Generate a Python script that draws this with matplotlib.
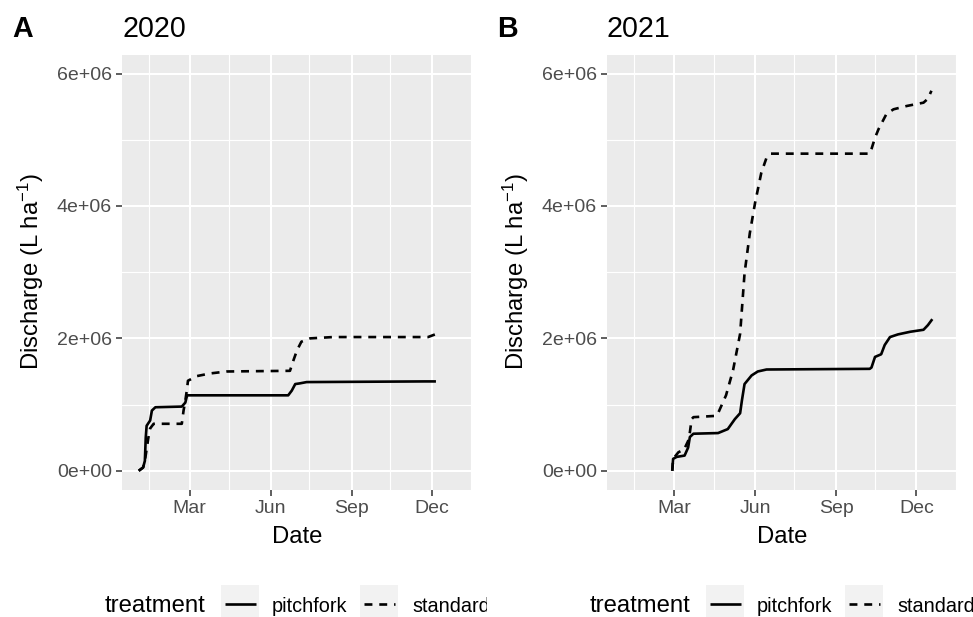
import matplotlib
matplotlib.use('Agg')
import matplotlib.pyplot as plt
import matplotlib.dates as mdates
from matplotlib.ticker import FuncFormatter, FixedLocator
from matplotlib.lines import Line2D
from matplotlib.patches import Rectangle
import pandas as pd

plt.rcParams['font.family'] = ['Liberation Sans', 'DejaVu Sans']
plt.rcParams['mathtext.fontset'] = 'custom'
plt.rcParams['mathtext.rm'] = 'Liberation Sans'
plt.rcParams['mathtext.it'] = 'Liberation Sans:italic'
plt.rcParams['mathtext.bf'] = 'Liberation Sans:bold'

# ---------------- data ----------------
years = [2020, 2021]
tags = ['A', 'B']
treatments = ['pitchfork', 'standard']

pitchfork_2020_dates = ['2020-01-03', '2020-01-08', '2020-01-10', '2020-01-11', '2020-01-12',
                        '2020-01-16', '2020-01-18', '2020-01-22', '2020-02-21', '2020-02-25',
                        '2020-02-27', '2020-06-21', '2020-06-25', '2020-06-29', '2020-07-04',
                        '2020-07-12', '2020-11-23', '2020-12-06']
pitchfork_2020_vals = [0.00e6, 0.05e6, 0.15e6, 0.50e6, 0.68e6,
                       0.76e6, 0.91e6, 0.96e6, 0.97e6, 1.03e6,
                       1.14e6, 1.14e6, 1.21e6, 1.31e6, 1.32e6,
                       1.34e6, 1.35e6, 1.35e6]

standard_2020_dates = ['2020-01-03', '2020-01-08', '2020-01-10', '2020-01-14', '2020-01-16',
                       '2020-01-20', '2020-02-21', '2020-02-23', '2020-02-25', '2020-02-27',
                       '2020-02-28', '2020-03-09', '2020-03-24', '2020-04-12', '2020-06-23',
                       '2020-06-27', '2020-07-01', '2020-07-06', '2020-07-16', '2020-08-11',
                       '2020-11-27', '2020-12-05']
standard_2020_vals = [0.00e6, 0.05e6, 0.15e6, 0.50e6, 0.64e6,
                      0.71e6, 0.71e6, 0.91e6, 1.06e6, 1.24e6,
                      1.36e6, 1.43e6, 1.47e6, 1.50e6, 1.51e6,
                      1.67e6, 1.82e6, 1.95e6, 2.00e6, 2.02e6,
                      2.02e6, 2.06e6]

pitchfork_2021_dates = ['2021-02-27', '2021-02-28', '2021-03-04', '2021-03-13', '2021-03-17',
                        '2021-03-19', '2021-03-23', '2021-04-20', '2021-05-01', '2021-05-09',
                        '2021-05-15', '2021-05-17', '2021-05-20', '2021-05-28', '2021-06-04',
                        '2021-06-14', '2021-10-09', '2021-10-11', '2021-10-15', '2021-10-22',
                        '2021-10-26', '2021-11-01', '2021-11-10', '2021-11-24', '2021-12-09',
                        '2021-12-14', '2021-12-19']
pitchfork_2021_vals = [0.00e6, 0.18e6, 0.21e6, 0.23e6, 0.35e6,
                       0.51e6, 0.56e6, 0.57e6, 0.63e6, 0.78e6,
                       0.87e6, 1.06e6, 1.31e6, 1.44e6, 1.50e6,
                       1.53e6, 1.54e6, 1.56e6, 1.72e6, 1.76e6,
                       1.90e6, 2.02e6, 2.06e6, 2.10e6, 2.13e6,
                       2.20e6, 2.29e6]

standard_2021_dates = ['2021-02-27', '2021-02-28', '2021-03-06', '2021-03-09', '2021-03-12',
                       '2021-03-17', '2021-03-19', '2021-03-21', '2021-03-23', '2021-04-18',
                       '2021-04-20', '2021-04-29', '2021-05-07', '2021-05-15', '2021-05-20',
                       '2021-05-26', '2021-06-01', '2021-06-08', '2021-06-14', '2021-06-19',
                       '2021-10-09', '2021-10-11', '2021-10-15', '2021-10-19', '2021-10-28',
                       '2021-11-05', '2021-11-20', '2021-12-09', '2021-12-14', '2021-12-18']
standard_2021_vals = [0.00e6, 0.18e6, 0.28e6, 0.30e6, 0.31e6,
                      0.45e6, 0.58e6, 0.78e6, 0.81e6, 0.83e6,
                      0.87e6, 1.14e6, 1.52e6, 2.07e6, 2.98e6,
                      3.59e6, 4.05e6, 4.50e6, 4.73e6, 4.79e6,
                      4.79e6, 4.86e6, 5.03e6, 5.16e6, 5.39e6,
                      5.46e6, 5.51e6, 5.56e6, 5.62e6, 5.74e6]

y_ticks = [0, 2e6, 4e6, 6e6]
y_minor = [1e6, 3e6, 5e6]
y_limits = (-0.29e6, 6.28e6)

series = {
    2020: {'pitchfork': (pitchfork_2020_dates, pitchfork_2020_vals),
           'standard': (standard_2020_dates, standard_2020_vals)},
    2021: {'pitchfork': (pitchfork_2021_dates, pitchfork_2021_vals),
           'standard': (standard_2021_dates, standard_2021_vals)},
}

# ---------------- style ----------------
W, H = 973, 617
LW = 1.9
DASH = (3.0, 2.6)
BASE = 17.2
TICK = 14.0
LEGLAB = 14.3
TITLE = 20.6
PANEL_BG = '#EBEBEB'

fig = plt.figure(figsize=(W / 100, H / 100), dpi=100)


def rect_px(l, t, r, b):
    return [l / W, 1 - b / H, (r - l) / W, (b - t) / H]


def fx(x):
    return x / W


def fy(y):
    return 1 - y / H


offsets = [0, 485]
for i, yr in enumerate(years):
    off = offsets[i]
    ax = fig.add_axes(rect_px(122 + off, 55, 472 + off, 490))
    ax.set_facecolor(PANEL_BG)
    for s in ax.spines.values():
        s.set_visible(False)
    for tr in treatments:
        d, v = series[yr][tr]
        line, = ax.plot(pd.to_datetime(d), v, color='black', lw=LW,
                        solid_capstyle='butt', dash_capstyle='butt', zorder=3)
        if tr == 'standard':
            line.set_dashes(DASH)
    ax.set_ylim(*y_limits)
    ax.set_xlim(pd.Timestamp(f'{yr - 1}-12-15'), pd.Timestamp(f'{yr + 1}-01-16'))
    ax.yaxis.set_major_locator(FixedLocator(y_ticks))
    ax.yaxis.set_minor_locator(FixedLocator(y_minor))
    ax.yaxis.set_major_formatter(FuncFormatter(lambda v, p: f'{v:.0e}'))
    ax.xaxis.set_major_locator(mdates.MonthLocator(bymonth=[3, 6, 9, 12], bymonthday=1))
    ax.xaxis.set_minor_locator(mdates.MonthLocator(bymonth=[1, 4, 7, 10], bymonthday=15))
    ax.xaxis.set_major_formatter(mdates.DateFormatter('%b'))
    ax.grid(True, which='major', color='white', lw=1.5, zorder=1)
    ax.grid(True, which='minor', color='white', lw=0.8, zorder=1)
    ax.set_axisbelow(True)
    ax.tick_params(which='major', length=4, width=1.1, color='#333333',
                   labelcolor='#4D4D4D', labelsize=TICK, pad=3.3)
    ax.tick_params(which='minor', length=0)

    # titles & labels
    fig.text(fx(12 + off), fy(37), tags[i], fontsize=TITLE, fontweight='bold',
             ha='left', va='baseline')
    fig.text(fx(122 + off), fy(37), str(yr), fontsize=TITLE, ha='left', va='baseline')
    fig.text(fx(297 + off), fy(543), 'Date', fontsize=BASE, ha='center', va='baseline')
    fig.text(fx(31 + off), fy(272), 'Discharge (L ha$^{-1}$)', fontsize=BASE,
             rotation=90, ha='center', va='center')

    # legend (clipped at half-figure boundary like the reference)
    lax = fig.add_axes([i * 0.5, 0, 0.5, 1])
    lax.set_xlim(i * W / 2, (i + 1) * W / 2)
    lax.set_ylim(H, 0)
    lax.axis('off')
    lax.patch.set_alpha(0)
    lax.text(105 + off, 612.5, 'treatment', fontsize=BASE, ha='left', va='baseline',
             clip_on=True)
    key_x = [221 + off, 360 + off]
    lab_x = [272 + off, 412 + off]
    for k, tr in enumerate(treatments):
        lax.add_patch(Rectangle((key_x[k], 585), 38, 38, fc='#F2F2F2', ec='none',
                                clip_on=True))
        kl = Line2D([key_x[k] + 3.5, key_x[k] + 34.5], [604, 604], color='black', lw=LW,
                    solid_capstyle='butt', dash_capstyle='butt')
        if tr == 'standard':
            kl.set_dashes(DASH)
        lax.add_line(kl)
        lax.text(lab_x[k], 612.5, tr, fontsize=LEGLAB, ha='left', va='baseline',
                 clip_on=True)

fig.savefig('out.png', dpi=100)
